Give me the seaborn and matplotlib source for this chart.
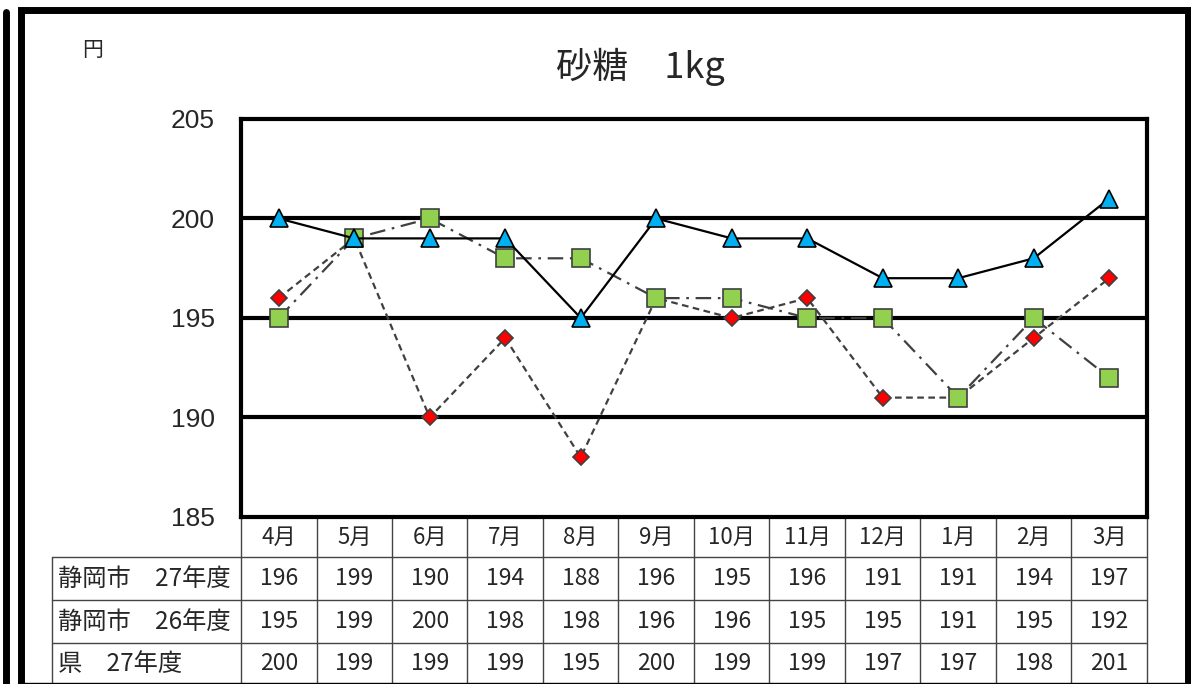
import matplotlib
matplotlib.use("Agg")
import matplotlib.pyplot as plt
import matplotlib.transforms as mtransforms
from matplotlib.lines import Line2D
import numpy as np
import pandas as pd
import seaborn as sns

# data
months = ["4月", "5月", "6月", "7月", "8月", "9月", "10月", "11月", "12月", "1月", "2月", "3月"]
city_27 = [196, 199, 190, 194, 188, 196, 195, 196, 191, 191, 194, 197]
city_26 = [195, 199, 200, 198, 198, 196, 196, 195, 195, 191, 195, 192]
pref_27 = [200, 199, 199, 199, 195, 200, 199, 199, 197, 197, 198, 201]
row_labels = ["静岡市　27年度", "静岡市　26年度", "県　27年度"]
yticks = [185, 190, 195, 200, 205]

sns.set_style("white")
plt.rcParams['font.family'] = ['Noto Sans CJK JP', 'DejaVu Sans']

W, H = 1191, 684
fig = plt.figure(figsize=(W / 100, H / 100), dpi=100)

# plot area in pixels
L, R, T, B = 241, 1147, 119, 517
ax = fig.add_axes([L / W, 1 - B / H, (R - L) / W, (B - T) / H])

df = pd.DataFrame({"pos": np.arange(len(months)), "c27": city_27, "c26": city_26, "p27": pref_27})

sns.lineplot(data=df, x="pos", y="c27", ax=ax, sort=False, color="#404040", lw=1.6,
             linestyle=(0, (3, 2)), marker="D", markersize=8.5,
             markerfacecolor="#FF0000", markeredgecolor="#404040", markeredgewidth=1.2, zorder=3)
sns.lineplot(data=df, x="pos", y="c26", ax=ax, sort=False, color="#404040", lw=1.6,
             linestyle=(0, (7, 3, 1.2, 3)), marker="s", markersize=12.5,
             markerfacecolor="#92D050", markeredgecolor="#404040", markeredgewidth=1.2, zorder=4)
sns.lineplot(data=df, x="pos", y="p27", ax=ax, sort=False, color="black", lw=1.6,
             marker="^", markersize=12.5,
             markerfacecolor="#00B0F0", markeredgecolor="black", markeredgewidth=1.2, zorder=5)

for g in [190, 195, 200]:
    ax.axhline(g, color="black", lw=3, zorder=1)

ax.set_xlim(-0.5, len(months) - 0.5)
ax.set_ylim(185, 205)
ax.set_yticks(yticks)
ax.set_yticklabels([str(v) for v in yticks], fontsize=19, family=['Liberation Sans', 'DejaVu Sans'])
ax.tick_params(axis="y", length=0, pad=19)
ax.set_xticks([])
ax.set_xlabel("")
ax.set_ylabel("")
for s in ax.spines.values():
    s.set_color("black")
    s.set_linewidth(3)

# table under the plot
ph = B - T
def yf(py):
    return (B - py) / ph

trans = mtransforms.blended_transform_factory(ax.transData, ax.transAxes)
label_left = -0.5 + (52 - L) / ((R - L) / len(months))
rows_y = [517, 557, 600, 643, 690]
tbl_kw = dict(color="#444444", lw=1, transform=trans, clip_on=False)

for y in rows_y[1:4]:
    ax.add_line(Line2D([label_left, len(months) - 0.5], [yf(y), yf(y)], **tbl_kw))
for i in range(len(months) + 1):
    ax.add_line(Line2D([i - 0.5, i - 0.5], [yf(517), yf(690)], **tbl_kw))
ax.add_line(Line2D([label_left, label_left], [yf(557), yf(690)], **tbl_kw))

for i, m in enumerate(months):
    ax.text(i, yf(537), m, transform=trans, ha="center", va="center", fontsize=16)

for r, (lab, vals) in enumerate(zip(row_labels, [city_27, city_26, pref_27])):
    yc = yf((rows_y[r + 1] + rows_y[r + 2]) / 2 if r < 2 else 664)
    ax.text(label_left + 0.08, yc, lab, transform=trans, ha="left", va="center", fontsize=17.5)
    for i, v in enumerate(vals):
        ax.text(i, yc, str(v), transform=trans, ha="center", va="center", fontsize=16.5)

# title and unit
fig.text(640 / W, 1 - 67 / H, "砂糖　1kg", ha="center", va="center", fontsize=26)
fig.text(93 / W, 1 - 50 / H, "円", ha="center", va="center", fontsize=15)

# outer frame lines
fig.add_artist(Line2D([6 / W, 6 / W], [0, 1 - 12 / H], color="black", lw=5, transform=fig.transFigure))
fig.add_artist(Line2D([21 / W, 21 / W, 1188 / W, 1188 / W], [0, 1 - 10 / H, 1 - 10 / H, 0],
                      color="black", lw=5, transform=fig.transFigure, solid_joinstyle="miter"))
fig.add_artist(Line2D([21 / W, 1188 / W], [1.5 / H, 1.5 / H], color="black", lw=1, transform=fig.transFigure))

fig.savefig("out.png", dpi=100)
